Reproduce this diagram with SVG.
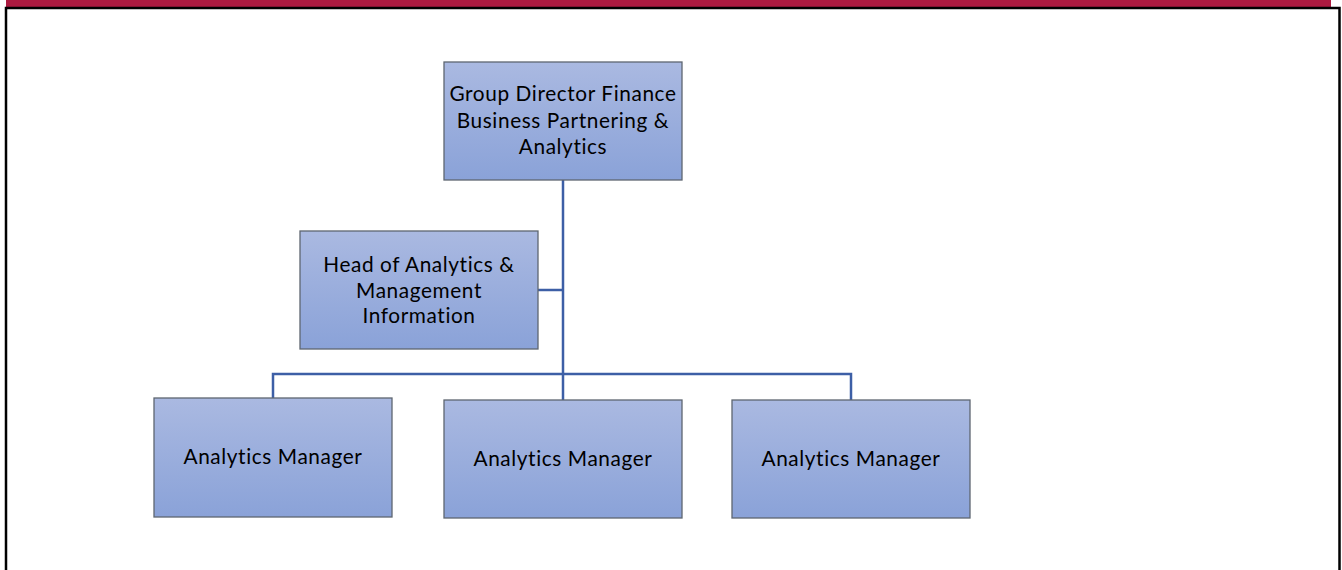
<svg xmlns="http://www.w3.org/2000/svg" width="1342" height="570" viewBox="0 0 1342 570">
  <style>
    .box { fill: url(#boxFill); stroke: #5E6670; stroke-width: 1.3; }
    .lbl { font-family: Lato, "Open Sans", "Liberation Sans", sans-serif; font-size: 20.8px; letter-spacing: 0.6px; font-variant-ligatures: none; fill: #000; text-anchor: middle; }
    .conn { fill: none; stroke: #3D5FA6; stroke-width: 2.5; }
  </style>
  <defs>
    <linearGradient id="boxFill" x1="0" y1="0" x2="0" y2="1">
      <stop offset="0" stop-color="#AAB9E1"/>
      <stop offset="1" stop-color="#8AA2D8"/>
    </linearGradient>
  </defs>

  <!-- page frame -->
  <rect x="6" y="0" width="1325" height="7.5" fill="#AC1A40"/>
  <path d="M6 570 V8 H1339.5 V570" fill="none" stroke="#000" stroke-width="2.5"/>

  <!-- reporting lines -->
  <g id="connectors">
    <path class="conn" d="M563 180 V374"/>
    <path class="conn" d="M538 290 H563"/>
    <path class="conn" d="M273 398 V374 H851 V400"/>
    <path class="conn" d="M563 374 V400"/>
  </g>

  <g id="group-director">
    <rect class="box" x="444" y="62" width="238" height="118"/>
    <text class="lbl" x="563" y="101">Group Director Finance</text>
    <text class="lbl" x="563" y="128">Business Partnering &amp;</text>
    <text class="lbl" x="563" y="154">Analytics</text>
  </g>

  <g id="head-analytics">
    <rect class="box" x="300" y="231" width="238" height="118"/>
    <text class="lbl" x="419" y="272">Head of Analytics &amp;</text>
    <text class="lbl" x="419" y="298">Management</text>
    <text class="lbl" x="419" y="323">Information</text>
  </g>

  <g id="analytics-manager-1">
    <rect class="box" x="154" y="398" width="238" height="119"/>
    <text class="lbl" x="273" y="464">Analytics Manager</text>
  </g>

  <g id="analytics-manager-2">
    <rect class="box" x="444" y="400" width="238" height="118"/>
    <text class="lbl" x="563" y="466">Analytics Manager</text>
  </g>

  <g id="analytics-manager-3">
    <rect class="box" x="732" y="400" width="238" height="118"/>
    <text class="lbl" x="851" y="466">Analytics Manager</text>
  </g>
</svg>
